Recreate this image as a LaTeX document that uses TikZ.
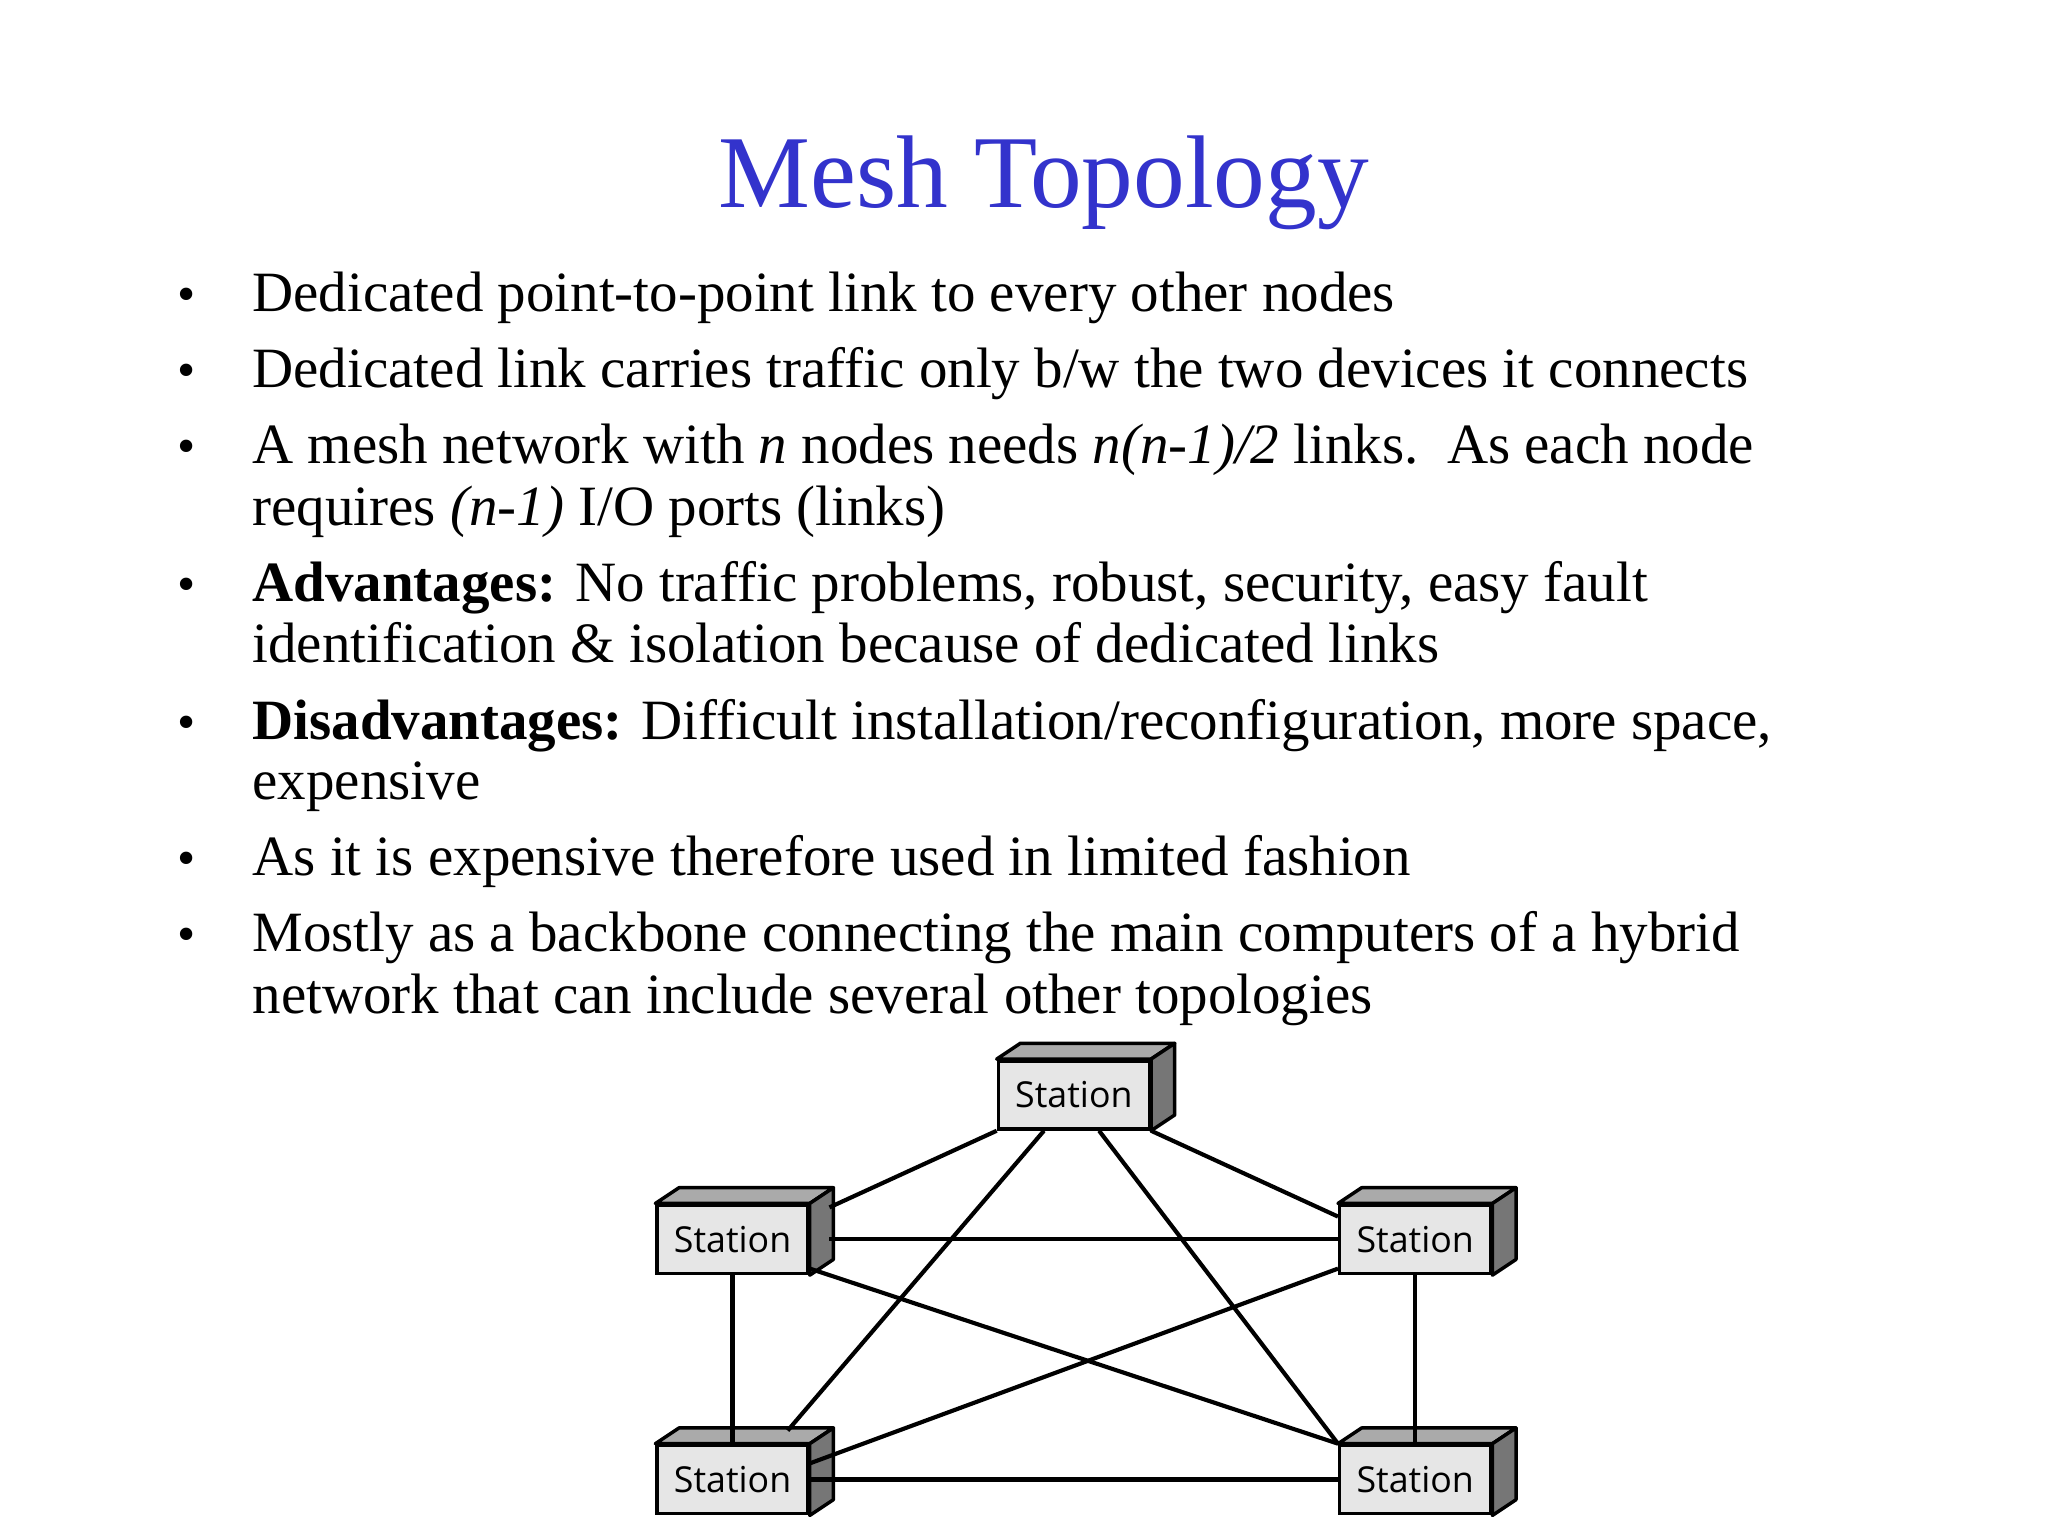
\documentclass[tikz,border=0pt]{standalone}
\usepackage{fontspec}
\usetikzlibrary{calc}
\setmainfont{Liberation Serif}
\newfontfamily\stfont{Open Sans}
\definecolor{titleblue}{RGB}{51,51,204}
\definecolor{frontg}{RGB}{230,230,230}
\definecolor{topg}{RGB}{170,170,170}
\definecolor{sideg}{RGB}{118,118,118}
\begin{document}
\begin{tikzpicture}[x=0.02cm,y=-0.02cm,
  body/.style={anchor=base west,inner sep=0pt,font=\fontsize{24.7}{29}\selectfont},
  bul/.style={anchor=base,inner sep=0pt,font=\fontsize{22.5}{27}\selectfont},
  station/.style={draw,line width=1.5pt,fill=frontg,minimum width=2.3cm,minimum height=1.04cm,inner sep=0pt,font=\stfont\fontsize{15.5}{17}\selectfont},
  link/.style={line width=1.8pt}]
\useasboundingbox (0,0) rectangle (1560,1170);
\node[anchor=base,inner sep=0pt,text=titleblue,font=\fontsize{44.8}{52}\selectfont] (title) at (795,158) {Mesh Topology};
\foreach \y/\n in {237/b1,295/b2,353/b3,458/b4,563/b5,667/b6,725/b7}
  \node[bul] (\n) at (142,\y) {\textbullet};
\node[body] (l1) at (192,237) {Dedicated point-to-point link to every other nodes};
\node[body] (l2) at (192,295) {Dedicated link carries traffic only b/w the two devices it connects};
\node[body] (l3) at (192,353) {A mesh network with \textit{n} nodes needs \textit{n(n-1)/2} links.\ \ As each node};
\node[body] (l3b) at (192,400) {requires \textit{(n-1)} I/O ports (links)};
\node[body] (l4) at (192,458) {\textbf{Advantages:} No traffic problems, robust, security, easy fault};
\node[body] (l4b) at (192,505) {identification \& isolation because of dedicated links};
\node[body] (l5) at (192,563) {\textbf{Disadvantages:} Difficult installation/reconfiguration, more space,};
\node[body] (l5b) at (192,609) {expensive};
\node[body] (l6) at (192,667) {As it is expensive therefore used in limited fashion};
\node[body] (l7) at (192,725) {Mostly as a backbone connecting the main computers of a hybrid};
\node[body] (l7b) at (192,772) {network that can include several other topologies};
% stations
\foreach \n/\x/\y in {T/818/834,L/558/944,R/1078/944,BL/558/1127,BR/1078/1127}{
  \node[station] (\n) at (\x,\y) {Station};
  \draw[line width=1.5pt,fill=topg,line join=round] (\n.north west) -- ++(18,-12) -- ($(\n.north east)+(18,-12)$) -- (\n.north east) -- cycle;
  \draw[line width=1.5pt,fill=sideg,line join=round] (\n.north east) -- ++(18,-12) -- ($(\n.south east)+(18,-12)$) -- (\n.south east) -- cycle;
}
\draw[link] (T.south west) -- ($(L.north east)+(15,3)$);
\draw[link] (T.south east) -- ($(R.north west)+(0,10)$);
\draw[link] ($(T.south west)+(36,0)$) -- ($(BL.north)+(42,-10)$);
\draw[link] ($(T.south west)+(78,0)$) -- (BR.north west);
\draw[link] ($(L.east)+(15,0)$) -- (R.west);
\draw[link] ($(L.south east)+(0,-5)$) -- ($(BR.north west)+(0,0)$);
\draw[link] (L.south) -- (BL.north);
\draw[link] ($(R.south west)+(0,-5)$) -- ($(BL.north east)+(0,15)$);
\draw[link] (R.south) -- (BR.north);
\draw[link] (BL.east) -- (BR.west);
\end{tikzpicture}
\end{document}
